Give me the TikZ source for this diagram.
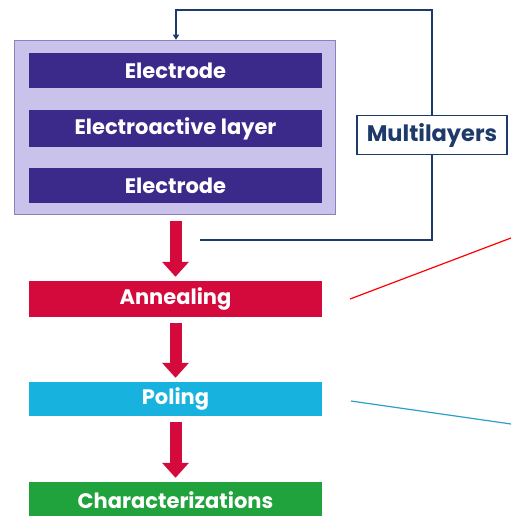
\documentclass[tikz,border=0pt]{standalone}
\usepackage{fontspec}
\setmainfont{Poppins}
\usetikzlibrary{arrows.meta}
\definecolor{lav}{HTML}{C9C3EC}
\definecolor{lavborder}{HTML}{8A82BE}
\definecolor{barpurple}{HTML}{3B2A8A}
\definecolor{navy}{HTML}{1D3A6B}
\definecolor{annred}{HTML}{D40A3C}
\definecolor{polcyan}{HTML}{17B3DE}
\definecolor{chargreen}{HTML}{20A23C}
\definecolor{linecyan}{HTML}{2AA0C8}
\tikzset{
  bar/.style={rectangle, minimum width=293pt, inner sep=0pt, text=white, font=\bfseries\fontsize{21}{24}\selectfont},
  stepbar/.style={rectangle, minimum width=293pt, inner sep=0pt, text=white, font=\bfseries\fontsize{21}{24}\selectfont},
  bigarrow/.style={draw=annred, line width=12pt, -{Triangle[width=26pt,length=15pt]}, shorten >=4pt, shorten <=6pt},
  fbline/.style={draw=navy, line width=1.8pt},
}
\begin{document}
\begin{tikzpicture}[x=1pt,y=-1pt]
\useasboundingbox (0,0) rectangle (511,516);
\node[rectangle, fill=lav, draw=lavborder, line width=1.5pt, minimum width=321pt, minimum height=174pt, inner sep=0pt] (outer) at (175,127.5) {};
\node[bar, fill=barpurple, minimum height=35pt] (e1) at (175.5,70.5) {Electrode};
\node[bar, fill=barpurple, minimum height=37pt] (ea) at (175.5,128.5) {Electroactive layer};
\node[bar, fill=barpurple, minimum height=35pt] (e2) at (175.5,185.5) {Electrode};
\node[stepbar, fill=annred, minimum height=36pt] (ann) at (175.5,299) {Annealing};
\node[stepbar, fill=polcyan, minimum height=34pt] (pol) at (175.5,399) {Poling};
\node[stepbar, fill=chargreen, minimum height=36pt] (chr) at (175.5,500) {Characterizations};
\node[rectangle, fill=white, draw=navy, line width=1.8pt, minimum width=150pt, minimum height=39pt, inner sep=0pt, text=navy, font=\bfseries\fontsize{22.5}{25}\selectfont] (ml) at (432,135) {Multilayers};
\coordinate (fbs) at (200,240);
\coordinate (fbc1) at (432,240);
\coordinate (fbc2) at (432,10);
\coordinate (fbc3) at (176,10);
\draw[fbline] (fbs) -- (fbc1) -- (ml.south);
\draw[fbline, -{Triangle[width=6pt,length=5pt]}] (ml.north) -- (fbc2) -- (fbc3) -- (fbc3 |- outer.north);
\draw[bigarrow] (outer.south -| ann.north) -- (ann.north);
\draw[bigarrow] (ann.south) -- (pol.north);
\draw[bigarrow] (pol.south) -- (chr.north);
\coordinate (r1) at (350,299);
\coordinate (r2) at (511,238);
\coordinate (c1) at (351,401);
\coordinate (c2) at (511,424);
\draw[red, line width=1.2pt] (r1) -- (r2);
\draw[linecyan, line width=1.2pt] (c1) -- (c2);
\end{tikzpicture}
\end{document}
